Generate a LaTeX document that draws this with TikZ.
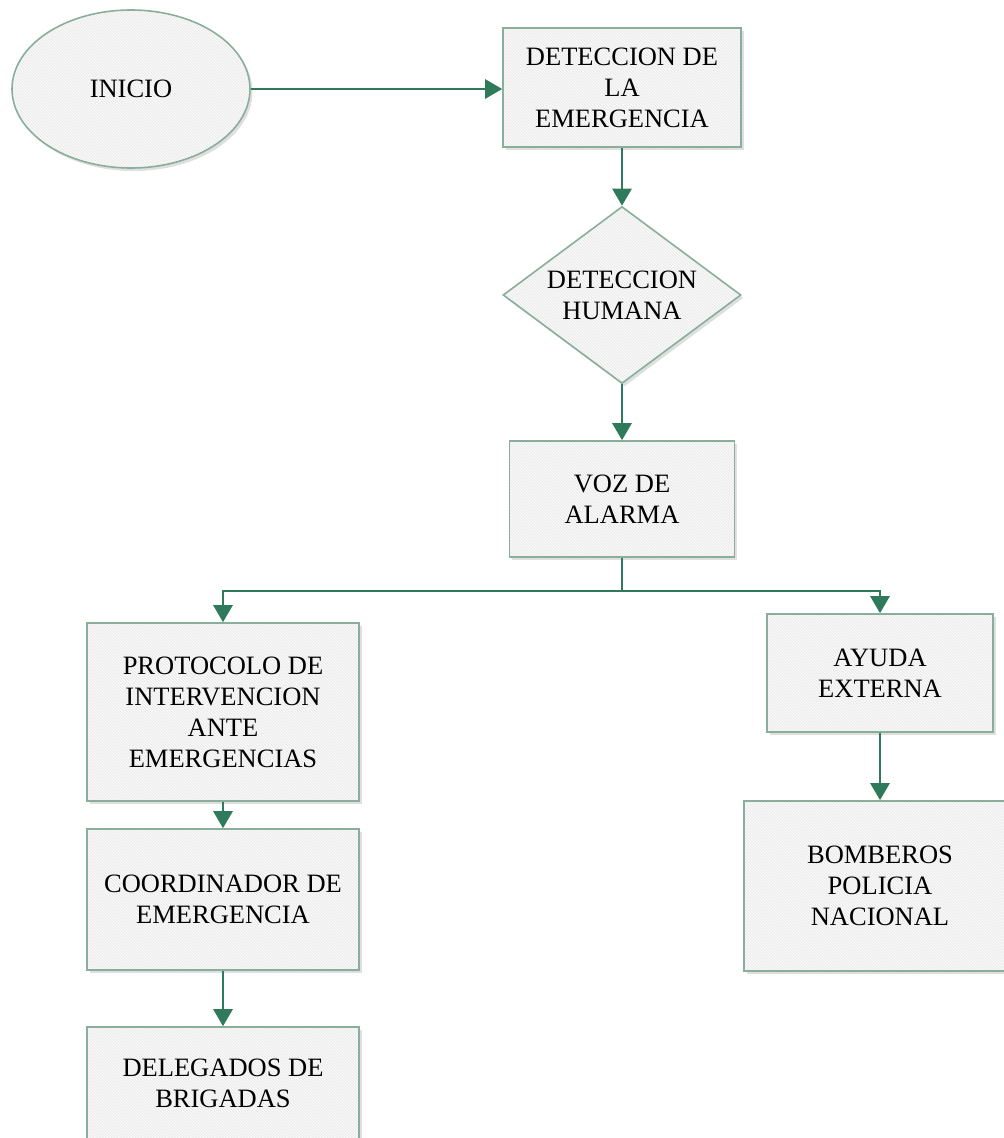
\documentclass[tikz,border=0pt]{standalone}
\usepackage{fontspec}
\setmainfont{Liberation Serif}
\usetikzlibrary{shapes.geometric,arrows.meta,patterns,shadows}
\definecolor{bordc}{HTML}{8AAE9C}
\definecolor{arrc}{HTML}{2F7A5A}
\definecolor{boxfill}{HTML}{EDEDED}
\tikzset{
  base/.style={draw=bordc, line width=1.6pt, inner sep=0pt, align=center,
    font=\fontsize{26.5}{31}\selectfont,
    drop shadow={opacity=0.25, shadow xshift=2.5pt, shadow yshift=-3pt},
    preaction={fill=boxfill}, pattern=north west lines, pattern color=white},
  procbox/.style={base, rectangle},
  startnode/.style={base, ellipse},
  decnode/.style={base, diamond},
  conn/.style={draw=arrc, line width=2.8pt, -{Triangle[width=19pt,length=17pt]}},
  plainconn/.style={draw=arrc, line width=2.8pt},
  plaintext/.style={font=\fontsize{26.5}{31}\selectfont, align=center, inner sep=0pt}
}
\begin{document}
\begin{tikzpicture}[x=1pt,y=-1pt]
\useasboundingbox (0,0) rectangle (1004,1138);
\clip (0,0) rectangle (1004,1138);
\node[startnode, minimum width=238pt, minimum height=158pt] (inicio) at (131,89) {INICIO};
\node[procbox, minimum width=238pt, minimum height=119pt] (det) at (622,87.5) {DETECCION DE\\LA\\EMERGENCIA};
\node[decnode, minimum width=238pt, minimum height=177pt, aspect=1.34] (hum) at (622,295) {DETECCION\\HUMANA};
\node[procbox, minimum width=225pt, minimum height=116pt] (voz) at (622,499) {VOZ DE\\ALARMA};
\node[procbox, minimum width=272pt, minimum height=178pt] (proto) at (223,712) {PROTOCOLO DE\\INTERVENCION\\ANTE\\EMERGENCIAS};
\node[procbox, minimum width=272pt, minimum height=141pt] (coord) at (223,899.5) {COORDINADOR DE\\EMERGENCIA};
\node[procbox, minimum width=272pt, minimum height=140pt] (deleg) at (223,1097) {};
\node[plaintext] (delegtxt) at (223,1083) {DELEGADOS DE\\BRIGADAS};
\node[procbox, minimum width=226pt, minimum height=118pt] (ayuda) at (880,673) {AYUDA\\EXTERNA};
\node[procbox, minimum width=270pt, minimum height=170pt] (bomb) at (879,886) {};
\node[plaintext] (bombtxt) at (880,886) {BOMBEROS\\POLICIA\\NACIONAL};
\coordinate (split) at (622,591);
\draw[conn] (inicio.east) -- (inicio.east -| det.west);
\draw[conn] (det.south) -- (hum.north);
\draw[conn] (hum.south) -- (voz.north);
\draw[plainconn] (voz.south) -- (split);
\draw[conn] (split) -| (proto.north);
\draw[conn] (split) -| (ayuda.north);
\draw[conn] (ayuda.south) -- (ayuda.south |- bomb.north);
\draw[conn] (proto.south) -- (coord.north);
\draw[conn] (coord.south) -- (deleg.north);
\end{tikzpicture}
\end{document}
